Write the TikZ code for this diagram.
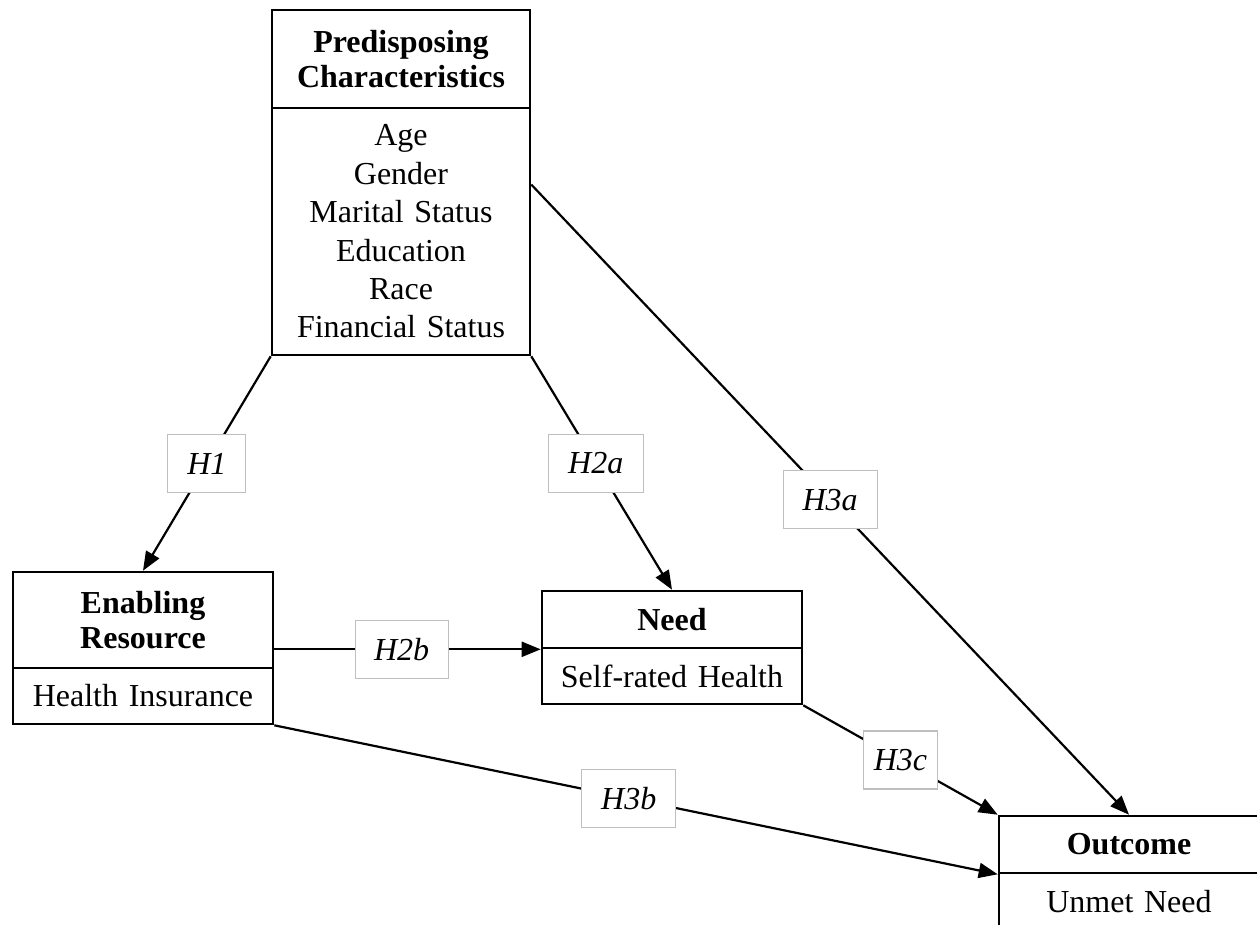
\documentclass[tikz,border=0pt]{standalone}
\usepackage{fontspec}
\setmainfont{Liberation Serif}
\usetikzlibrary{arrows.meta,calc}
\begin{document}
\begin{tikzpicture}[x=1pt,y=-1pt,
  boxpart/.style={draw, line width=2.6pt, minimum width=258pt, inner sep=0pt,
    align=center, text width=250pt, font=\fontsize{32}{38.4}\selectfont},
  headpart/.style={boxpart, font=\fontsize{32}{35}\selectfont\bfseries},
  hlabel/.style={draw=black!25, line width=1.1pt, fill=white, inner xsep=4pt,
    inner ysep=0pt, minimum height=58pt, font=\fontsize{32}{38}\selectfont\itshape},
  conn/.style={line width=2.2pt},
  arr/.style={conn, -{Triangle[length=19pt,width=15pt]}}]
\useasboundingbox (0,0) rectangle (1257,924);
\clip (0,0) rectangle (1257,924);

% Predisposing Characteristics
\node[headpart, minimum height=98pt] (prehead) at (401,59) {Predisposing\\Characteristics};
\node[boxpart, minimum height=247pt] (prebody) at (401,231.5)
  {Age\\Gender\\Marital Status\\Education\\Race\\Financial Status};

% Enabling Resource
\node[headpart, minimum width=260pt, minimum height=96pt] (enhead) at (143,620) {Enabling\\Resource};
\node[boxpart, minimum width=260pt, minimum height=56pt] (enbody) at (143,696) {Health Insurance};

% Need
\node[headpart, minimum width=260pt, minimum height=57pt] (needhead) at (672,619.5) {Need};
\node[boxpart, minimum width=260pt, minimum height=56pt] (needbody) at (672,676) {Self-rated Health};

% Outcome
\node[headpart, minimum width=260pt, minimum height=57pt] (outhead) at (1129,844.5) {Outcome};
\node[boxpart, minimum width=260pt, minimum height=57pt] (outbody) at (1129,901.5) {Unmet Need};

\coordinate (h3astart) at ($(prebody.north east)!0.312!(prebody.south east)$);

% Connectors
\draw[arr] (prebody.south west) -- node[hlabel, minimum width=78pt] (lh1) {H1} (enhead.north);
\draw[arr] (prebody.south east) -- node[hlabel, pos=0.458, minimum width=95pt] (lh2a) {H2a} (needhead.north);
\draw[arr] (h3astart) -- node[hlabel, minimum width=94pt] (lh3a) {H3a} (outhead.north);
\draw[arr] (enhead.east |- needhead.south west) -- node[hlabel, pos=0.478, minimum width=93pt] (lh2b) {H2b} (needhead.south west);
\draw[arr] (needbody.south east) -- node[hlabel, minimum width=74pt] (lh3c) {H3c} (outhead.north west);
\draw[arr] (enbody.south east) -- node[hlabel, pos=0.49, minimum width=94pt] (lh3b) {H3b} (outhead.south west);
\end{tikzpicture}
\end{document}
